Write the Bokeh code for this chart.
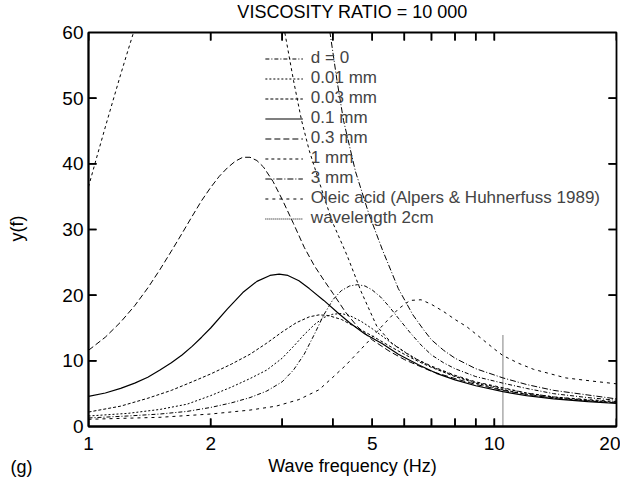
import math
from bokeh.plotting import figure
from bokeh.models import FixedTicker, Legend, LegendItem, Label, Range1d
from bokeh.embed import file_html
from bokeh.resources import INLINE

# ---------------- data ----------------
title_text = "VISCOSITY RATIO = 10 000"
x_label_text = "Wave frequency (Hz)"
y_label_text = "y(f)"
panel_tag = "(g)"
x_major_ticks = [1, 2, 5, 10, 20]
x_minor_ticks = [3, 4, 6, 7, 8, 9]
y_ticks = [0, 10, 20, 30, 40, 50, 60]

# d = 0
f_d0 = [1.0, 1.25, 1.5, 1.75, 2.0, 2.25, 2.5, 2.75, 3.0, 3.2, 3.4, 3.6, 3.8, 4.0, 4.2,
        4.4, 4.6, 4.8, 5.0, 5.25, 5.5, 5.8, 6.2, 6.6, 7.0, 7.5, 8.0, 9.0, 10.5, 12, 14, 17, 20]
y_d0 = [1.3, 1.6, 1.9, 2.3, 2.9, 3.6, 4.4, 5.4, 6.8, 8.6, 11.0, 14.0, 17.0, 19.3, 20.7,
        21.4, 21.6, 21.4, 20.8, 19.7, 18.3, 16.5, 14.3, 12.4, 10.9, 9.7, 8.8, 7.6, 6.6, 5.8, 5.0, 4.4, 4.0]

# 0.01 mm
f_001 = [1.0, 1.25, 1.5, 1.75, 2.0, 2.25, 2.5, 2.75, 3.0, 3.2, 3.4, 3.6, 3.8, 4.0, 4.2,
         4.4, 4.7, 5.0, 5.5, 6.0, 6.5, 7.0, 8.0, 9.0, 10.5, 12, 14, 17, 20]
y_001 = [1.6, 2.0, 2.6, 3.4, 4.7, 6.0, 7.3, 8.6, 10.4, 12.2, 14.0, 15.5, 16.6, 17.1, 17.2,
         16.9, 16.0, 14.9, 13.0, 11.4, 10.1, 9.1, 7.7, 6.7, 5.8, 5.1, 4.5, 4.0, 3.7]

# 0.03 mm
f_003 = [1.0, 1.2, 1.4, 1.6, 1.8, 2.0, 2.25, 2.5, 2.75, 3.0, 3.25, 3.5, 3.7, 3.9, 4.2,
         4.6, 5.0, 5.5, 6.0, 6.5, 7.0, 8.0, 9.0, 10.5, 12, 14, 17, 20]
y_003 = [2.2, 3.1, 4.3, 5.5, 6.8, 8.0, 9.5, 11.0, 12.7, 14.4, 15.8, 16.7, 17.0, 16.9, 16.3,
         15.0, 13.8, 12.3, 11.0, 9.9, 9.0, 7.6, 6.6, 5.6, 4.9, 4.3, 3.9, 3.6]

# 0.1 mm
f_01 = [1.0, 1.1, 1.2, 1.3, 1.4, 1.5, 1.6, 1.7, 1.8, 1.9, 2.0, 2.2, 2.4, 2.6, 2.8, 2.95,
        3.1, 3.3, 3.5, 3.8, 4.1, 4.4, 4.8, 5.3, 5.8, 6.5, 7.2, 8.0, 9.0, 10.5, 12, 14, 17, 20]
y_01 = [4.6, 5.1, 5.8, 6.6, 7.5, 8.6, 9.7, 10.9, 12.2, 13.6, 15.0, 17.9, 20.4, 22.1, 23.0, 23.2,
        23.0, 22.2, 21.0, 19.2, 17.4, 15.8, 14.1, 12.6, 11.0, 9.4, 8.1, 7.1, 6.2, 5.3, 4.7, 4.2, 3.8, 3.5]

# 0.3 mm
f_03 = [1.0, 1.1, 1.2, 1.3, 1.4, 1.5, 1.6, 1.7, 1.8, 1.9, 2.0, 2.1, 2.2, 2.3, 2.4, 2.5,
        2.6, 2.7, 2.85, 3.0, 3.2, 3.4, 3.6, 3.8, 4.0, 4.3, 4.6, 5.0, 5.5, 6.0, 7.0, 8.0,
        9.0, 10.5, 12, 14, 17, 20]
y_03 = [11.6, 13.6, 15.9, 18.4, 21.1, 23.9, 26.7, 29.4, 32.0, 34.4, 36.4, 38.1, 39.4, 40.4, 41.0, 41.0,
        40.5, 39.5, 37.3, 34.6, 30.9, 27.3, 24.5, 22.3, 20.3, 17.4, 15.2, 13.2, 11.5, 10.2, 8.4, 7.3,
        6.4, 5.5, 4.9, 4.4, 3.9, 3.6]

# 1 mm
f_1 = [1.0, 1.05, 1.1, 1.15, 1.2, 1.25, 1.3, 1.4, 1.7, 2.0, 2.4, 2.8, 3.05, 3.2, 3.35, 3.5,
       3.67, 3.85, 4.0, 4.34, 4.7, 5.13, 5.6, 6.3, 7.0, 8.0, 9.0, 10.5, 12, 14, 17, 20]
y_1 = [36.5, 41.2, 45.6, 49.7, 53.6, 57.2, 60.6, 67.0, 82.0, 92.0, 86.0, 72.0, 59.8, 52.7, 46.6, 42.0,
       38.0, 34.0, 31.0, 26.0, 20.5, 15.3, 12.6, 10.5, 9.2, 7.8, 6.8, 5.9, 5.1, 4.5, 4.1, 3.8]

# 3 mm
f_3 = [3.3, 3.6, 3.94, 4.1, 4.25, 4.55, 4.9, 5.3, 5.8, 6.3, 6.7, 7.0, 7.5, 8.0, 9.0,
       10.5, 12, 14, 17, 20]
y_3 = [90.0, 75.0, 59.8, 52.5, 46.6, 38.8, 32.5, 26.9, 21.0, 17.0, 14.7, 13.2, 11.6, 10.4, 8.8,
       7.4, 6.4, 5.5, 4.8, 4.2]

# Oleic acid (Alpers & Huhnerfuss 1989)
f_oleic = [1.0, 1.5, 2.0, 2.5, 2.9, 3.3, 3.7, 4.0, 4.3, 4.6, 4.9, 5.2, 5.5, 5.8, 6.2, 6.6,
           7.0, 7.5, 8.0, 8.55, 9.0, 10.0, 10.5, 11.5, 12.5, 15, 17.5, 20]
y_oleic = [1.1, 1.4, 1.9, 2.5, 3.1, 4.1, 5.6, 7.5, 9.3, 11.2, 13.0, 14.8, 16.4, 17.9, 19.2, 19.3,
           18.6, 17.5, 16.3, 15.2, 14.1, 11.8, 10.8, 9.6, 8.7, 7.4, 6.9, 6.5]

# wavelength 2 cm
f_wave = [10.5, 10.5]
y_wave = [0, 14]

series = [
    ("d = 0", f_d0, y_d0, "4 2 1 2", 1.0),
    ("0.01 mm", f_001, y_001, "2 2", 1.0),
    ("0.03 mm", f_003, y_003, "3 2", 1.0),
    ("0.1 mm", f_01, y_01, "solid", 1.2),
    ("0.3 mm", f_03, y_03, "6 3", 1.0),
    ("1 mm", f_1, y_1, "3 3", 1.0),
    ("3 mm", f_3, y_3, "6 2 1 2", 1.0),
    ("Oleic acid (Alpers & Huhnerfuss 1989)", f_oleic, y_oleic, "3 4", 1.0),
    ("wavelength 2cm", f_wave, y_wave, "1 1", 1.0),
]

FONT = "Liberation Sans"
X0, X1 = float(x_major_ticks[0]), float(x_major_ticks[-1])
Y0, Y1 = float(y_ticks[0]), float(y_ticks[-1])

p = figure(width=620, height=478, x_axis_type="log", title=None,
           x_range=Range1d(X0, X1), y_range=Range1d(Y0, Y1),
           output_backend="svg", toolbar_location=None,
           min_border_left=88, min_border_right=4, min_border_top=32, min_border_bottom=51)
p.xgrid.visible = False
p.ygrid.visible = False
p.outline_line_color = "black"
p.outline_line_width = 1.8
p.background_fill_color = "white"
p.border_fill_color = "white"

xt = FixedTicker(ticks=x_major_ticks, minor_ticks=x_minor_ticks)
yt = FixedTicker(ticks=y_ticks, minor_ticks=[])

xa = p.xaxis[0]
xa.ticker = xt
xa.axis_label = x_label_text
ya = p.yaxis[0]
ya.ticker = yt
for ax in (xa, ya):
    ax.axis_line_color = "black"
    ax.axis_line_width = 1.8
    ax.major_tick_in = 0
    ax.major_tick_out = 0
    ax.minor_tick_in = 0
    ax.minor_tick_out = 0
    ax.major_label_text_font = FONT
    ax.major_label_text_font_size = "19px"
    ax.major_label_text_color = "black"
    ax.axis_label_text_font = FONT
    ax.axis_label_text_font_size = "18px"
    ax.axis_label_text_font_style = "normal"
    ax.axis_label_text_color = "black"
xa.major_label_standoff = 10
xa.axis_label_standoff = 3
ya.major_label_standoff = 5

items = []
for name, fx, fy, dash, lw in series:
    r = p.line(fx, fy, line_color="black", line_width=lw, line_dash=dash)
    items.append(LegendItem(label=name, renderers=[r]))

# inward tick marks on all four sides (~8 px long, the outer half is clipped by the frame)
x_all = [float(t) for t in x_major_ticks + x_minor_ticks]
y_inner = [float(t) for t in y_ticks[1:-1]]
tick_len_y = (Y1 - Y0) * 8.0 / 395.0
tick_fac_x = (X1 / X0) ** (8.0 / 528.0)
for t in x_all:
    p.line([t, t], [Y0, Y0 + tick_len_y], line_color="black", line_width=1.5)
    p.line([t, t], [Y1, Y1 - tick_len_y], line_color="black", line_width=1.5)
for t in y_inner:
    p.line([X0, X0 * tick_fac_x], [t, t], line_color="black", line_width=1.5)
    p.line([X1, X1 / tick_fac_x], [t, t], line_color="black", line_width=1.5)
p.rect(x=x_all, y=[Y0] * len(x_all), width=1.6, height=16,
       width_units="screen", height_units="screen", fill_color="black", line_color=None)
p.rect(x=x_all, y=[Y1] * len(x_all), width=1.6, height=16,
       width_units="screen", height_units="screen", fill_color="black", line_color=None)
p.rect(x=[X0] * len(y_inner), y=y_inner, width=16, height=1.6,
       width_units="screen", height_units="screen", fill_color="black", line_color=None)
p.rect(x=[X1] * len(y_inner), y=y_inner, width=16, height=1.6,
       width_units="screen", height_units="screen", fill_color="black", line_color=None)

legend = Legend(items=items, location="top_right",
                label_text_font=FONT, label_text_font_size="17px",
                label_height=17, glyph_height=17, glyph_width=38, spacing=0,
                label_standoff=8, padding=4, margin=12,
                background_fill_alpha=0, border_line_alpha=0)
p.add_layout(legend)

# title, y-axis title and "(g)" tag: canvas-positioned labels in side panels
t_lab = Label(x=352, y=11, x_units="canvas", y_units="canvas", text=title_text,
              text_font=FONT, text_font_size="18px", text_baseline="middle",
              text_align="center", text_color="black")
y_lab = Label(x=16, y=228, x_units="canvas", y_units="canvas", text=y_label_text,
              angle=math.pi / 2, text_font=FONT, text_font_size="18px",
              text_baseline="middle", text_align="center", text_color="black")
g_lab = Label(x=10, y=466, x_units="canvas", y_units="canvas", text=panel_tag,
              text_font=FONT, text_font_size="18px", text_baseline="middle",
              text_align="left", text_color="black")
p.add_layout(t_lab, "above")
p.add_layout(y_lab, "left")
p.add_layout(g_lab, "left")

open("out.html", "w").write(file_html(p, INLINE))
